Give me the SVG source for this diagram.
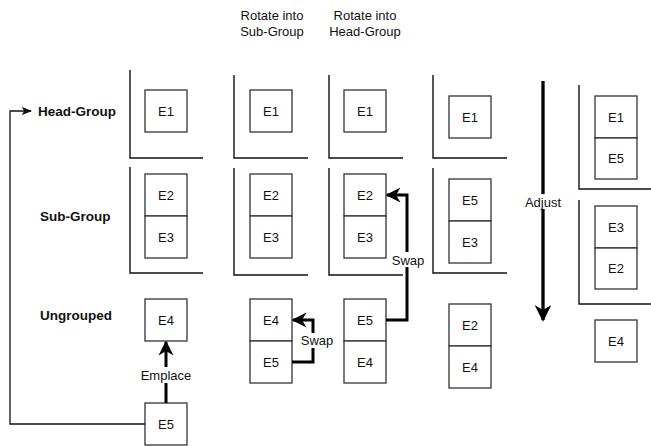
<svg xmlns="http://www.w3.org/2000/svg" width="651" height="446" viewBox="0 0 651 446">
<style>
.bg{fill:#fff}
.box{fill:#fff;stroke:#333;stroke-width:1.3}
.br{fill:none;stroke:#111;stroke-width:1.4}
.t{font-family:"Liberation Sans",Arial,sans-serif;font-size:13px;fill:#111;text-anchor:middle;dominant-baseline:central}
.lb{font-family:"Liberation Sans",Arial,sans-serif;font-size:13.5px;font-weight:bold;fill:#111;dominant-baseline:central}
.thick{fill:none;stroke:#000;stroke-width:3}
.thin{fill:none;stroke:#111;stroke-width:1.3}
</style>
<defs>
<marker id="ah" viewBox="0 0 10 10" refX="9" refY="5" markerWidth="5" markerHeight="5" orient="auto" markerUnits="strokeWidth">
<path d="M0,0 L10,5 L0,10 L3,5 Z" fill="#000"/>
</marker>
<marker id="ahs" viewBox="0 0 10 10" refX="9" refY="5" markerWidth="8" markerHeight="8" orient="auto" markerUnits="strokeWidth">
<path d="M0,1 L10,5 L0,9 L2.5,5 Z" fill="#111"/>
</marker>
</defs>
<rect class="bg" width="651" height="446"/>

<g id="headers">
<text class="t" x="272" y="15">Rotate into</text>
<text class="t" x="272" y="31">Sub-Group</text>
<text class="t" x="365" y="15">Rotate into</text>
<text class="t" x="365" y="31">Head-Group</text>
</g>

<g id="row-labels">
<text class="lb" x="38" y="111">Head-Group</text>
<text class="lb" x="40" y="216">Sub-Group</text>
<text class="lb" x="40" y="315">Ungrouped</text>
</g>

<g id="brackets">
<path class="br" d="M130,70 V158 H203"/>
<path class="br" d="M130,167 V273 H203"/>
<path class="br" d="M234,75 V158 H308"/>
<path class="br" d="M234,168 V275 H308"/>
<path class="br" d="M329,75 V158 H403"/>
<path class="br" d="M329,168 V275 H403"/>
<path class="br" d="M433,75 V158 H507"/>
<path class="br" d="M433,168 V273 H507"/>
<path class="br" d="M579,85 V189 H651"/>
<path class="br" d="M579,200 V304 H651"/>
</g>

<g id="col1">
<g id="c1-E1"><rect class="box" x="145" y="90" width="42" height="42"/><text class="t" x="166" y="111">E1</text></g>
<g id="c1-E2"><rect class="box" x="145" y="174" width="42" height="42"/><text class="t" x="166" y="195">E2</text></g>
<g id="c1-E3"><rect class="box" x="145" y="216" width="42" height="42"/><text class="t" x="166" y="237">E3</text></g>
<g id="c1-E4"><rect class="box" x="145" y="299" width="42" height="42"/><text class="t" x="166" y="320">E4</text></g>
<g id="c1-E5"><rect class="box" x="145" y="403" width="42" height="42"/><text class="t" x="166" y="424">E5</text></g>
</g>

<g id="col2">
<g id="c2-E1"><rect class="box" x="250" y="90" width="42" height="42"/><text class="t" x="271" y="111">E1</text></g>
<g id="c2-E2"><rect class="box" x="250" y="174" width="42" height="42"/><text class="t" x="271" y="195">E2</text></g>
<g id="c2-E3"><rect class="box" x="250" y="216" width="42" height="42"/><text class="t" x="271" y="237">E3</text></g>
<g id="c2-E4"><rect class="box" x="250" y="299" width="42" height="42"/><text class="t" x="271" y="320">E4</text></g>
<g id="c2-E5"><rect class="box" x="250" y="341" width="42" height="42"/><text class="t" x="271" y="362">E5</text></g>
</g>

<g id="col3">
<g id="c3-E1"><rect class="box" x="344" y="90" width="42" height="42"/><text class="t" x="365" y="111">E1</text></g>
<g id="c3-E2"><rect class="box" x="344" y="174" width="42" height="42"/><text class="t" x="365" y="195">E2</text></g>
<g id="c3-E3"><rect class="box" x="344" y="216" width="42" height="42"/><text class="t" x="365" y="237">E3</text></g>
<g id="c3-E5"><rect class="box" x="344" y="299" width="42" height="42"/><text class="t" x="365" y="320">E5</text></g>
<g id="c3-E4"><rect class="box" x="344" y="341" width="42" height="42"/><text class="t" x="365" y="362">E4</text></g>
</g>

<g id="col4">
<g id="c4-E1"><rect class="box" x="449" y="96" width="42" height="42"/><text class="t" x="470" y="117">E1</text></g>
<g id="c4-E5"><rect class="box" x="449" y="179" width="42" height="42"/><text class="t" x="470" y="200">E5</text></g>
<g id="c4-E3"><rect class="box" x="449" y="221" width="42" height="42"/><text class="t" x="470" y="242">E3</text></g>
<g id="c4-E2"><rect class="box" x="449" y="304" width="42" height="42"/><text class="t" x="470" y="325">E2</text></g>
<g id="c4-E4"><rect class="box" x="449" y="346" width="42" height="42"/><text class="t" x="470" y="367">E4</text></g>
</g>

<g id="col5">
<g id="c5-E1"><rect class="box" x="595" y="96" width="42" height="42"/><text class="t" x="616" y="117">E1</text></g>
<g id="c5-E5"><rect class="box" x="595" y="138" width="42" height="41"/><text class="t" x="616" y="158.5">E5</text></g>
<g id="c5-E3"><rect class="box" x="595" y="206" width="42" height="42"/><text class="t" x="616" y="227">E3</text></g>
<g id="c5-E2"><rect class="box" x="595" y="248" width="42" height="41"/><text class="t" x="616" y="268.5">E2</text></g>
<g id="c5-E4"><rect class="box" x="595" y="320" width="42" height="42"/><text class="t" x="616" y="341">E4</text></g>
</g>

<g id="connectors">
<path class="thin" d="M145,424 H10 V111 H31" marker-end="url(#ahs)"/>
<path class="thick" d="M166,403 V342" marker-end="url(#ah)"/>
<rect class="bg" x="140" y="367" width="52" height="16"/>
<text class="t" x="166" y="375">Emplace</text>
<path class="thick" d="M292,362 H313 V320 H293" marker-end="url(#ah)"/>
<rect class="bg" x="301" y="333" width="32" height="15"/>
<text class="t" x="317" y="340">Swap</text>
<path class="thick" d="M386,320 H407 V195 H387" marker-end="url(#ah)"/>
<rect class="bg" x="392" y="252" width="32" height="15"/>
<text class="t" x="408" y="260">Swap</text>
<path class="thick" d="M543,81 V320" style="stroke-width:3.3" marker-end="url(#ah)"/>
<rect class="bg" x="523" y="194" width="40" height="15"/>
<text class="t" x="543" y="202">Adjust</text>
</g>
</svg>
